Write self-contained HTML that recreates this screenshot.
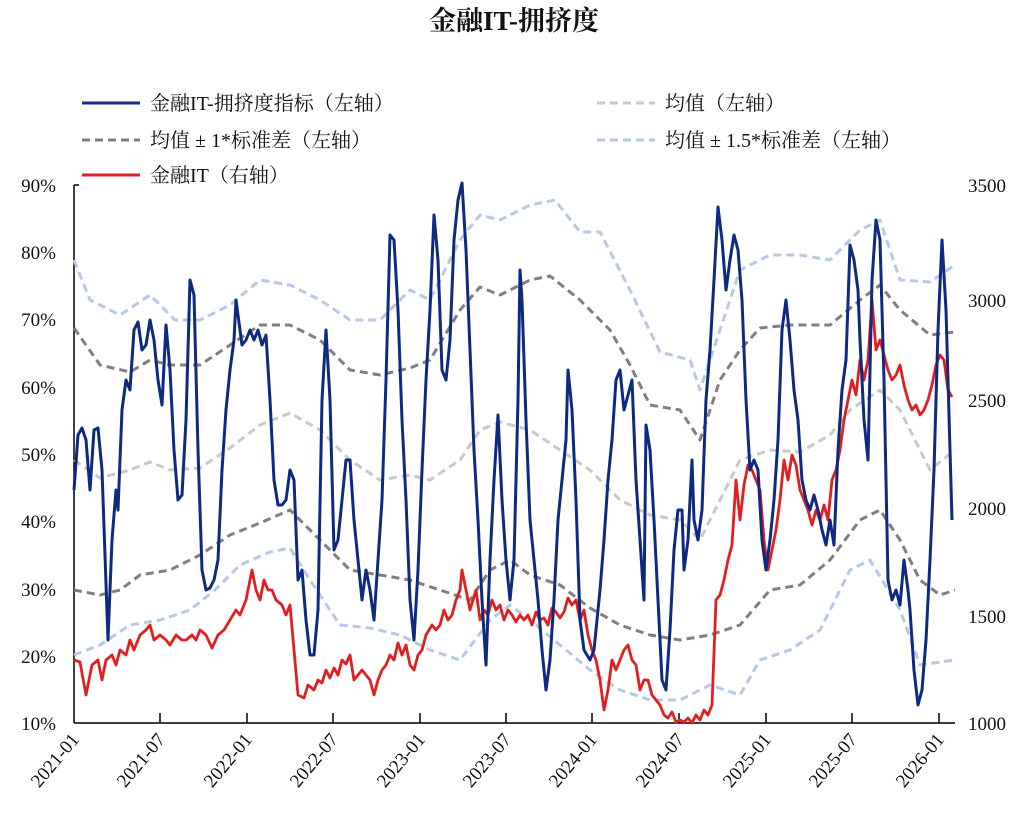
<!DOCTYPE html>
<html><head><meta charset="utf-8"><style>
body{margin:0;background:#fff}
svg text{font-family:"Liberation Serif","Noto Serif CJK SC",serif;fill:#111}
</style></head><body>
<svg width="1024" height="814" viewBox="0 0 1024 814" xmlns="http://www.w3.org/2000/svg">
<text x="514" y="30" text-anchor="middle" font-size="27" font-weight="bold">金融IT-拥挤度</text>
<g font-size="20">
<line x1="82" y1="103" x2="140" y2="103" stroke="#0f2f8a" stroke-width="3"/><text x="150" y="110">金融IT-拥挤度指标（左轴）</text>
<line x1="597" y1="103" x2="655" y2="103" stroke="#c8c8c8" stroke-width="3" stroke-dasharray="8,5"/><text x="665" y="110">均值（左轴）</text>
<line x1="82" y1="140" x2="140" y2="140" stroke="#7f7f7f" stroke-width="3" stroke-dasharray="8,5"/><text x="150" y="147">均值 ± 1*标准差（左轴）</text>
<line x1="597" y1="140" x2="655" y2="140" stroke="#b7c8e6" stroke-width="3" stroke-dasharray="8,5"/><text x="665" y="147">均值 ± 1.5*标准差（左轴）</text>
<line x1="82" y1="175" x2="140" y2="175" stroke="#e02020" stroke-width="3"/><text x="150" y="182">金融IT（右轴）</text>
</g>
<g font-size="19" text-anchor="end">
<text x="56" y="192">90%</text><text x="56" y="259">80%</text><text x="56" y="326">70%</text><text x="56" y="394">60%</text><text x="56" y="461">50%</text><text x="56" y="528">40%</text><text x="56" y="596">30%</text><text x="56" y="663">20%</text><text x="56" y="730">10%</text>
</g>
<g font-size="19">
<text x="968" y="192">3500</text><text x="968" y="307">3000</text><text x="968" y="407">2500</text><text x="968" y="515">2000</text><text x="968" y="623">1500</text><text x="968" y="730">1000</text>
</g>
<g stroke="#000" stroke-width="1.5">
<line x1="74" y1="185" x2="74" y2="723"/><line x1="74" y1="723" x2="955" y2="723"/>
<line x1="74" y1="185" x2="79" y2="185"/>
<line x1="160" y1="713" x2="160" y2="723"/><line x1="247" y1="713" x2="247" y2="723"/><line x1="333" y1="713" x2="333" y2="723"/><line x1="420" y1="713" x2="420" y2="723"/><line x1="506" y1="713" x2="506" y2="723"/><line x1="592" y1="713" x2="592" y2="723"/><line x1="679" y1="713" x2="679" y2="723"/><line x1="766" y1="713" x2="766" y2="723"/><line x1="852" y1="713" x2="852" y2="723"/><line x1="939" y1="713" x2="939" y2="723"/>
</g>
<g font-size="19" text-anchor="end">
<text transform="translate(80,740) rotate(-50)">2021-01</text>
<text transform="translate(166,740) rotate(-50)">2021-07</text>
<text transform="translate(253,740) rotate(-50)">2022-01</text>
<text transform="translate(339,740) rotate(-50)">2022-07</text>
<text transform="translate(426,740) rotate(-50)">2023-01</text>
<text transform="translate(512,740) rotate(-50)">2023-07</text>
<text transform="translate(598,740) rotate(-50)">2024-01</text>
<text transform="translate(685,740) rotate(-50)">2024-07</text>
<text transform="translate(772,740) rotate(-50)">2025-01</text>
<text transform="translate(858,740) rotate(-50)">2025-07</text>
<text transform="translate(945,740) rotate(-50)">2026-01</text>
</g>
<g fill="none" stroke-width="3" stroke-dasharray="8,5" stroke-linejoin="round">
<polyline stroke="#c8c8c8" points="74,460 100,478 130,470 150,462 170,470 200,468 230,448 260,425 290,413 320,430 350,460 380,480 410,475 430,480 460,460 480,430 500,422 530,430 560,450 590,470 620,500 650,515 680,520 700,540 720,500 740,460 770,450 800,452 830,435 850,410 880,390 900,410 930,470 955,450"/>
<polyline stroke="#7f7f7f" points="74,328 100,365 130,372 150,360 170,365 200,365 230,345 260,325 290,325 320,340 350,370 380,375 410,368 430,360 460,310 480,287 500,295 530,280 550,276 580,300 610,330 630,365 650,405 680,410 700,440 720,380 740,350 760,328 790,325 830,325 860,300 880,285 900,310 930,335 955,332"/>
<polyline stroke="#7f7f7f" points="74,590 100,595 120,590 140,575 170,570 200,555 230,535 260,523 290,510 320,540 350,570 380,575 410,580 440,590 470,600 490,570 510,560 530,575 560,585 590,608 620,625 650,635 680,640 710,635 740,625 770,590 800,585 830,560 860,520 880,510 900,540 920,580 940,595 955,590"/>
<polyline stroke="#b7c8e6" points="74,260 90,300 120,315 150,295 175,320 200,320 230,305 260,280 290,285 320,300 350,320 380,320 410,290 430,300 460,240 480,215 500,220 530,205 555,200 580,232 600,232 630,290 660,352 690,360 700,390 720,330 740,270 770,255 800,255 830,260 860,230 880,220 900,280 930,282 955,265"/>
<polyline stroke="#b7c8e6" points="74,655 100,645 130,625 160,620 190,610 215,590 240,565 270,552 290,548 310,580 340,625 370,628 400,635 430,650 460,660 490,620 510,605 530,620 560,645 590,670 620,690 650,700 680,700 710,685 740,695 760,660 790,650 820,630 850,570 870,560 900,610 920,665 955,660"/>
</g>
<polyline fill="none" stroke="#e02020" stroke-width="2.8" stroke-linejoin="round" points="74,660 80,662 86,695 92,665 98,660 102,680 106,660 112,655 116,665 120,650 126,655 130,640 134,650 140,635 146,630 150,625 154,640 160,635 166,640 170,645 176,635 182,640 186,640 192,635 196,640 200,630 206,635 212,648 218,635 224,630 230,620 236,610 240,615 246,600 252,570 256,590 260,600 264,580 268,590 272,590 276,600 282,605 286,615 290,605 294,650 298,695 304,698 308,685 314,690 318,680 322,683 326,670 330,678 334,668 338,675 342,660 346,664 350,655 354,680 358,675 362,670 366,675 370,680 374,695 378,680 382,670 386,665 390,655 394,660 398,643 402,655 406,645 410,665 414,670 418,655 422,650 426,635 432,625 436,630 440,625 444,610 448,620 452,615 456,600 460,590 462,570 466,590 470,610 476,590 480,620 484,610 488,615 492,600 496,610 500,605 504,620 508,610 512,615 516,622 520,615 524,620 528,615 532,625 536,612 540,620 544,618 548,625 552,608 556,612 560,618 564,612 568,598 572,605 576,600 580,620 584,610 588,635 592,650 596,660 600,680 604,710 608,690 612,660 616,670 620,660 624,650 628,645 632,660 636,665 640,690 644,680 648,680 652,695 656,700 660,705 664,715 668,718 672,712 676,722 680,720 684,722 688,718 692,723 696,715 700,720 704,710 708,715 712,705 716,600 720,595 724,580 728,560 732,545 736,480 740,520 744,485 748,465 752,470 756,480 760,490 764,540 768,570 772,550 776,530 780,500 784,460 788,480 792,455 796,465 800,490 804,500 808,510 812,525 816,510 820,520 824,505 828,520 832,480 836,470 840,450 844,420 848,400 852,380 856,395 860,360 864,380 868,360 872,300 876,350 880,340 884,355 888,370 892,380 896,375 900,365 904,385 908,400 912,410 916,405 920,415 924,410 928,400 932,385 936,365 940,355 944,360 948,390 952,397"/>
<polyline fill="none" stroke="#0d2a80" stroke-width="3" stroke-linejoin="round" points="74,490 78,435 82,428 86,440 90,490 94,430 98,428 102,470 108,640 112,540 116,490 118,510 122,410 126,380 130,390 134,330 138,322 142,350 146,345 150,320 154,340 158,380 162,405 166,325 170,370 174,450 178,500 182,495 186,420 190,280 194,295 198,450 202,570 206,590 210,588 214,580 218,560 222,470 226,410 230,370 234,340 236,300 240,330 242,345 246,340 250,330 254,340 258,330 262,345 266,335 270,400 274,480 278,505 282,505 286,500 290,470 294,480 298,580 302,570 306,620 310,655 314,655 318,610 322,400 326,330 330,400 334,550 338,540 342,500 346,460 350,460 354,520 358,560 362,600 366,570 370,590 374,620 378,560 382,500 386,380 390,235 394,240 398,310 402,420 406,500 410,600 414,640 418,570 422,470 426,380 430,310 434,215 438,260 442,370 446,380 450,340 454,240 458,200 462,183 466,250 470,350 474,450 478,520 482,600 486,665 490,560 494,480 498,415 502,500 506,560 510,600 514,560 518,400 520,270 522,300 526,420 530,520 534,560 538,600 542,650 546,690 550,660 554,600 558,520 562,480 566,440 568,370 572,410 576,500 580,620 584,650 590,660 594,650 600,590 604,540 608,480 612,440 616,380 620,370 624,410 628,395 632,380 636,480 640,540 644,600 646,425 650,450 654,520 658,600 662,680 666,690 670,630 674,550 678,510 682,510 684,570 688,540 692,460 694,520 698,540 702,510 706,400 710,350 714,280 718,207 722,240 726,290 730,260 734,235 738,250 742,300 746,400 750,470 754,460 758,470 762,540 766,570 770,540 774,500 778,440 782,330 786,300 790,340 794,390 798,420 802,480 806,500 810,510 814,495 818,510 822,530 826,545 830,520 834,545 838,450 842,390 846,360 850,245 854,260 858,290 860,340 864,420 868,460 872,280 876,220 880,240 884,380 888,580 892,600 896,590 900,605 904,560 908,590 910,610 914,670 918,705 922,690 926,640 930,560 934,470 938,330 942,240 946,310 950,450 952,520"/>
</svg>
</body></html>
